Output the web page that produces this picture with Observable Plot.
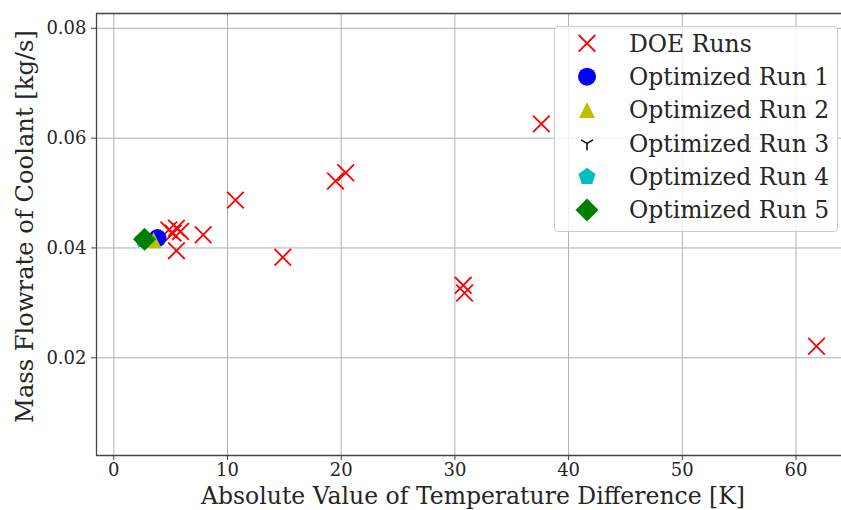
<!DOCTYPE html>
<html><head><meta charset="utf-8">
<script src="https://cdn.jsdelivr.net/npm/d3@7"></script>
<script src="https://cdn.jsdelivr.net/npm/@observablehq/plot@0.6"></script>
<style>
html,body{margin:0;padding:0;background:#fff;overflow:hidden;}
#wrap{position:relative;width:841px;height:510px;font-family:"DejaVu Serif",serif;}
#legend{position:absolute;left:554px;top:26px;width:284px;height:206px;border:1px solid #cccccc;border-radius:4px;background:rgba(255,255,255,0.8);box-sizing:border-box;}
</style></head><body><div id="wrap"></div>
<script>
// DOE runs
const doeX = [37.6, 20.4, 19.5, 10.7, 7.86, 14.86, 5.51, 4.84, 5.51, 5.87, 5.22, 30.73, 30.85, 61.8];
const doeY = [0.0626, 0.0537, 0.0522, 0.0487, 0.0424, 0.0383, 0.0395, 0.0433, 0.0436, 0.0430, 0.0427, 0.0332, 0.0318, 0.0221];
// Optimized runs
const optNames = ["Optimized Run 1", "Optimized Run 2", "Optimized Run 3", "Optimized Run 4", "Optimized Run 5"];
const optX = [3.84, 3.5, 2.6, 2.6, 2.7];
const optY = [0.0418, 0.0414, 0.0415, 0.0415, 0.0416];
const doeName = "DOE Runs";
const xTicks = [0, 10, 20, 30, 40, 50, 60];
const yTicks = [0.02, 0.04, 0.06, 0.08];
const xDomain = [-1.52, 64.0];
const yDomain = [0.0022, 0.0827];
const xLabel = "Absolute Value of Temperature Difference [K]";
const yLabel = "Mass Flowrate of Coolant [kg/s]";

// custom symbols (size = pi r^2)
const rad = s => Math.sqrt(s / Math.PI);
const symTimes = {draw(c, s){const r = rad(s); c.moveTo(-r,-r); c.lineTo(r,r); c.moveTo(-r,r); c.lineTo(r,-r);}};
const symCircle = {draw(c, s){const r = rad(s); c.moveTo(r,0); c.arc(0,0,r,0,2*Math.PI);}};
const symTri = {draw(c, s){const r = rad(s); c.moveTo(0,-r); c.lineTo(r,r); c.lineTo(-r,r); c.closePath();}};
const symWye = {draw(c, s){const r = rad(s); c.moveTo(0,0); c.lineTo(0,r); c.moveTo(0,0); c.lineTo(-0.866*r,-0.5*r); c.moveTo(0,0); c.lineTo(0.866*r,-0.5*r);}};
const symPent = {draw(c, s){const r = rad(s); for(let i=0;i<5;i++){const a = -Math.PI/2 + i*2*Math.PI/5; const px = r*Math.cos(a), py = r*Math.sin(a); if(i===0) c.moveTo(px,py); else c.lineTo(px,py);} c.closePath();}};
const symDiam = {draw(c, s){const r = rad(s); c.moveTo(0,-r); c.lineTo(r,0); c.lineTo(0,r); c.lineTo(-r,0); c.closePath();}};

const optStyles = [
  {symbol: symCircle, r: 9, fill: "#0000ff", stroke: "none"},
  {symbol: symTri, r: 8, fill: "#bfbf00", stroke: "none"},
  {symbol: symWye, r: 7, fill: "none", stroke: "#000000", strokeWidth: 1.5},
  {symbol: symPent, r: 9, fill: "#00bfbf", stroke: "none"},
  {symbol: symDiam, r: 11.5, fill: "#008000", stroke: "none"}
];
const doeStyle = {symbol: symTimes, r: 8.3, fill: "none", stroke: "#ff0000", strokeWidth: 1.8};

const doe = doeX.map((x, i) => ({x, y: doeY[i]}));
const opt = optX.map((x, i) => ({x, y: optY[i], name: optNames[i]}));

const plot = Plot.plot({
  width: 841, height: 510,
  marginLeft: 96, marginRight: 0, marginTop: 13, marginBottom: 55,
  x: {domain: xDomain},
  y: {domain: yDomain},
  style: {fontFamily: "'DejaVu Serif', serif", fontSize: "18px", background: "white", color: "#262626", overflow: "visible"},
  marks: [
    Plot.gridX(xTicks, {stroke: "#b0b0b0", strokeOpacity: 1, strokeWidth: 1}),
    Plot.gridY(yTicks, {stroke: "#b0b0b0", strokeOpacity: 1, strokeWidth: 1}),
    Plot.ruleX([xDomain[0]], {stroke: "#444", strokeWidth: 1.3}),
    Plot.ruleY([yDomain[0], yDomain[1]], {stroke: "#444", strokeWidth: 1.3}),
    Plot.axisX(xTicks, {tickSize: 5, tickPadding: 3, label: null, fontSize: 18, stroke: "#444"}),
    Plot.axisY(yTicks, {tickSize: 5, tickPadding: 5, label: null, fontSize: 18, tickFormat: d3.format(".2f"), stroke: "#444"}),
    Plot.dot(doe, {x: "x", y: "y", ...doeStyle}),
    ...opt.map((d, i) => Plot.dot([d], {x: "x", y: "y", ...optStyles[i]})),
    Plot.text([xLabel], {frameAnchor: "bottom", dy: 41, dx: 4, fontSize: 23.5, textAnchor: "middle", lineAnchor: "middle", fill: "#262626"}),
    Plot.text([yLabel], {frameAnchor: "left", dx: -71, dy: -8, rotate: -90, fontSize: 24.2, textAnchor: "middle", lineAnchor: "middle", fill: "#262626"})
  ]
});
const wrap = document.getElementById("wrap");
wrap.appendChild(plot);

// legend
const leg = document.createElement("div");
leg.id = "legend";
wrap.appendChild(leg);
const lsvg = d3.select(leg).append("svg").attr("width", 284).attr("height", 206).style("position","absolute").style("left","-1px").style("top","-1px");
const entries = [{name: doeName, ...doeStyle}, ...optNames.map((n, i) => ({name: n, ...optStyles[i]}))];
entries.forEach((e, i) => {
  const cy = 17.3 + i * 33.35;
  lsvg.append("path")
    .attr("transform", `translate(33,${cy})`)
    .attr("d", d3.symbol(e.symbol, Math.PI * e.r * e.r)())
    .attr("fill", e.fill).attr("stroke", e.stroke).attr("stroke-width", e.strokeWidth || 0);
  lsvg.append("text").attr("x", 75).attr("y", cy).attr("dy", "0.35em")
    .attr("font-family", "'DejaVu Serif', serif").attr("font-size", 23.5).attr("fill", "#262626")
    .text(e.name);
});
</script></body></html>
